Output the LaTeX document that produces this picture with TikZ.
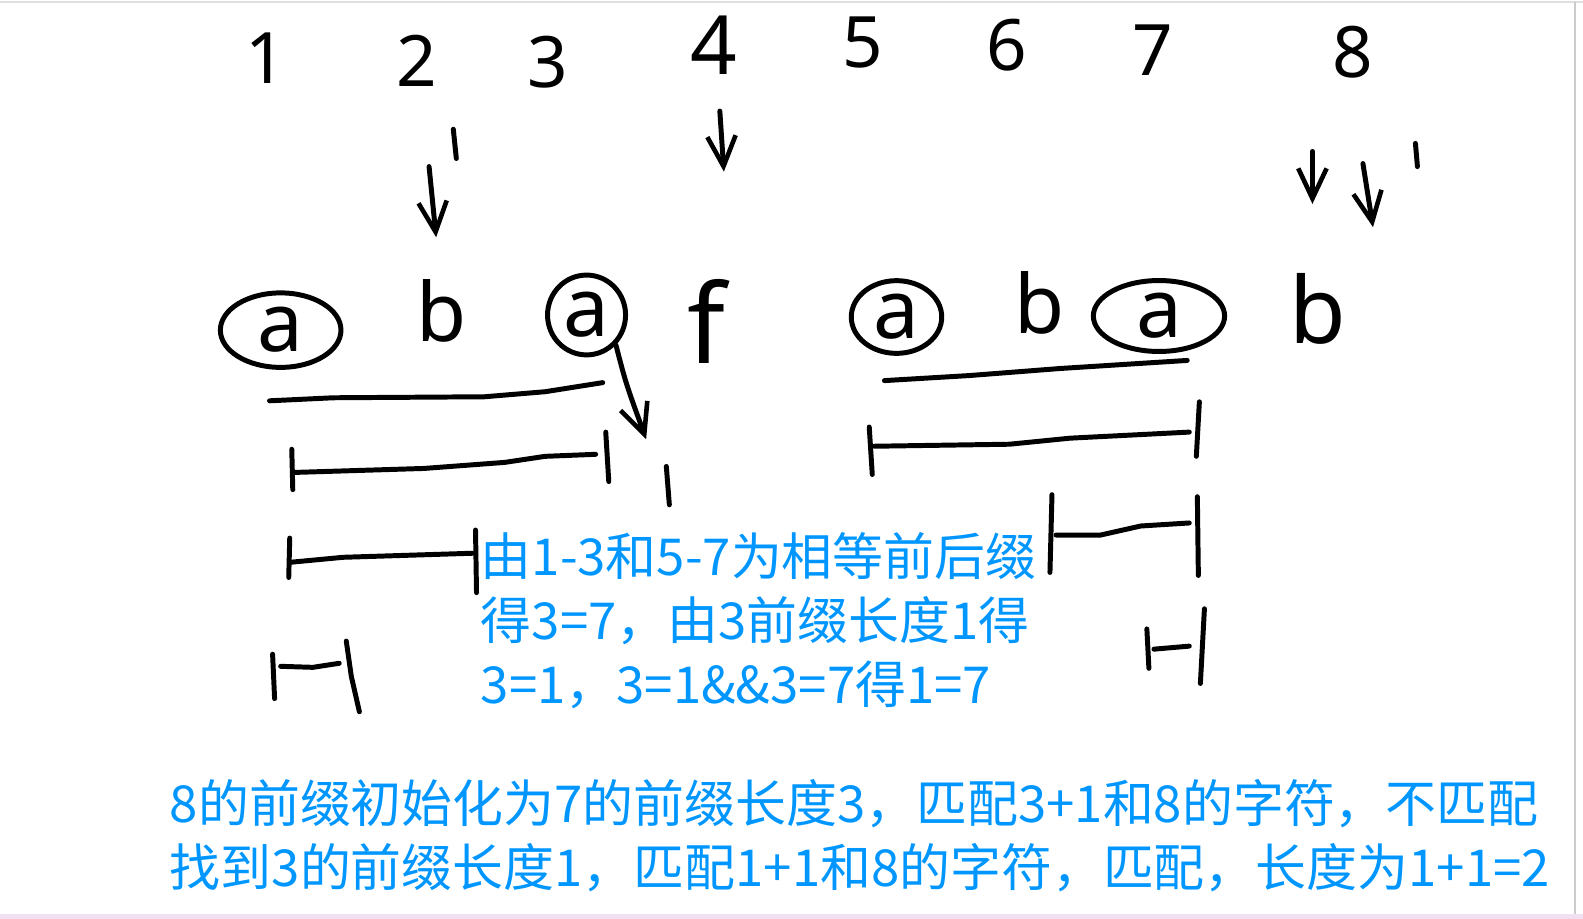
\documentclass[tikz,border=0pt]{standalone}
\usepackage{fontspec}
\setmainfont{Noto Sans}
\newfontfamily\cjk{Noto Sans CJK SC}
\usetikzlibrary{arrows.meta}
\usetikzlibrary{positioning}
\usetikzlibrary{shapes.geometric}
\definecolor{noteblue}{RGB}{0,150,255}

\begin{document}
\begin{tikzpicture}[
		x=0.02cm,
		y=-0.02cm,
		>={Straight Barb[length=17pt,width=16pt,line width=2.6pt]},
		stroke/.style={line width=2.8pt, line cap=round, line join=round},
		index node/.style={font=\fontsize{40}{40}\selectfont, inner sep=0pt},
		letter node/.style={font=\fontsize{46}{46}\selectfont, inner sep=0pt},
		circled node/.style={letter node, ellipse, draw, line width=2.8pt},
		note/.style={font=\cjk\fontsize{28.7}{36}\selectfont, text=noteblue, align=left, inner sep=0pt, anchor=north west}
		]
		
		\useasboundingbox (0,0) rectangle (1568,910);
		\draw[gray!25, line width=1pt] (0,2) -- (1568,2);
		\draw[gray!40, line width=1pt] (1560,2) -- (1560,905);
		\fill[violet!12] (0,905) rectangle (1568,910);
		
		% positions
		\node[index node] (i1) at (263,58) {1};
		\node[index node] (i2) at (413,60) {2};
		\node[index node] (i3) at (543,62) {3};
		\node[index node, font=\fontsize{46}{46}\selectfont] (i4) at (707,45) {4};
		\node[index node] (i5) at (855,42) {5};
		\node[index node] (i6) at (997,45) {6};
		\node[index node] (i7) at (1142,50) {7};
		\node[index node] (i8) at (1340,52) {8};
		
		% characters
		\node[circled node, minimum width=68pt, minimum height=42pt] (c1) at (278,327) {a};
		\node[letter node] (c2) at (437,308) {b};
		\node[circled node, minimum width=44pt, minimum height=45pt] (c3) at (581,312) {a};
		\node[letter node, font=\fontsize{62}{62}\selectfont] (c4) at (700,318) {f};
		\node[circled node, minimum width=51pt, minimum height=41pt] (c5) at (888,314) {a};
		\node[letter node] (c6) at (1030,300) {b};
		\node[circled node, minimum width=74pt, minimum height=40pt] (c7) at (1148,313) {a};
		\node[letter node, font=\fontsize{52}{52}\selectfont] (c8) at (1305,306) {b};
		
		% pointers
		\coordinate (j tail) at (425,165);
		\coordinate (j head) at (432,235);
		\coordinate (i tail) at (713,110);
		\coordinate (i head) at (717,170);
		\coordinate (k tail) at (1300,150);
		\coordinate (k head) at (1300,202);
		\coordinate (l tail) at (1350,162);
		\coordinate (l head) at (1360,225);
		\coordinate (m head) at (640,435);
		\draw[stroke, ->] (j tail) -- (j head);
		\draw[stroke, ->] (i tail) -- (i head);
		\draw[stroke, ->] (k tail) -- (k head);
		\draw[stroke, ->] (l tail) -- (l head);
		\draw[stroke, ->] (c3.south east) .. controls (620,380) .. (m head);
		\draw[stroke] (449,128) -- (452,157);
		\draw[stroke] (1402,142) -- (1404,165);
		\draw[stroke] (660,462) -- (663,500);
		
		% prefix 1-3
		\draw[stroke] (267,397) -- (330,394) -- (480,393) -- (540,388) -- (597,379);
		\draw[stroke] (289,445) -- (290,485);
		\draw[stroke] (290,468) -- (420,464) -- (500,458) -- (540,452) -- (590,450);
		\draw[stroke] (600,428) -- (603,477);
		\draw[stroke] (287,533) -- (286,572);
		\draw[stroke] (287,557) -- (340,552) -- (468,548);
		\draw[stroke] (471,525) -- (472,587);
		\draw[stroke] (270,648) -- (272,692);
		\draw[stroke] (278,660) -- (310,661) -- (336,657);
		\draw[stroke] (343,635) -- (348,670) -- (356,705);
		
		% suffix 5-7
		\draw[stroke] (876,377) -- (960,372) -- (1050,365) -- (1176,357);
		\draw[stroke] (861,423) -- (864,470);
		\draw[stroke] (866,442) -- (1000,440) -- (1060,434) -- (1178,428);
		\draw[stroke] (1188,398) -- (1185,452);
		\draw[stroke] (1042,490) -- (1040,567);
		\draw[stroke] (1046,530) -- (1090,530) -- (1130,521) -- (1178,518);
		\draw[stroke] (1186,492) -- (1187,570);
		\draw[stroke] (1136,623) -- (1138,662);
		\draw[stroke] (1143,643) -- (1178,640);
		\draw[stroke] (1193,603) -- (1189,677);
		
		% notes
		\node[note] (reason) at (476,527) {由1-3和5-7为相等前后缀\\得3=7，由3前缀长度1得\\3=1，3=1\&\&3=7得1=7};
		\node[note] (summary) at (168,772) {8的前缀初始化为7的前缀长度3，匹配3+1和8的字符，不匹配\\找到3的前缀长度1，匹配1+1和8的字符，匹配，长度为1+1=2};
	\end{tikzpicture}
\end{document}
